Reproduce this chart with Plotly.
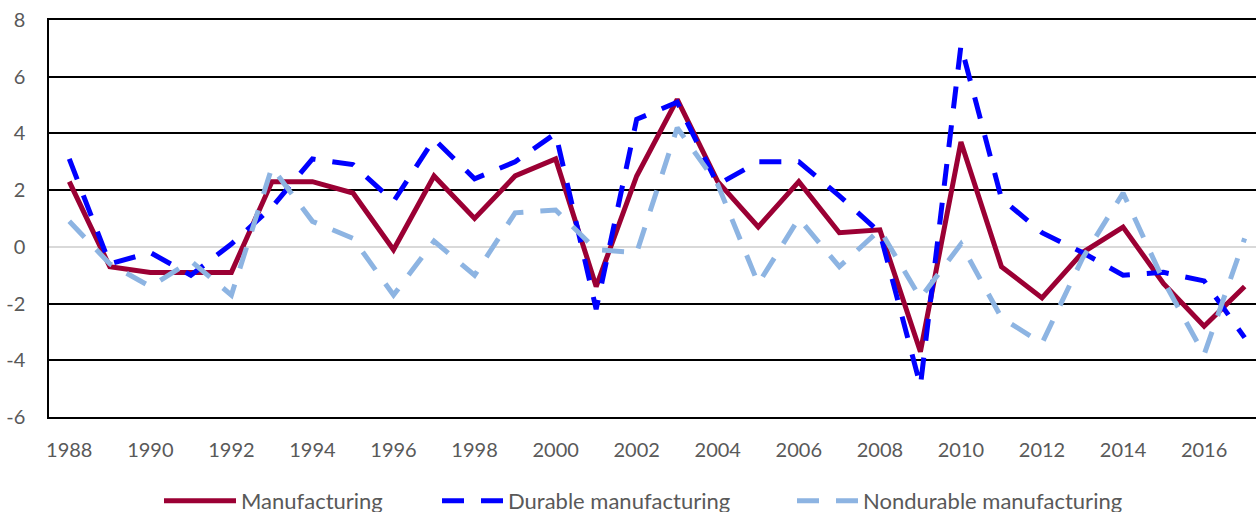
import plotly.graph_objects as go

years = list(range(1988, 2018))

manufacturing = [2.3, -0.7, -0.9, -0.9, -0.9, 2.3, 2.3, 1.9, -0.1, 2.5,
                 1.0, 2.5, 3.1, -1.4, 2.5, 5.2, 2.3, 0.7, 2.3, 0.5,
                 0.6, -3.7, 3.7, -0.7, -1.8, -0.2, 0.7, -1.3, -2.8, -1.4]

durable = [3.1, -0.6, -0.2, -1.0, 0.1, 1.4, 3.1, 2.9, 1.6, 3.8,
           2.4, 3.0, 4.0, -2.2, 4.5, 5.1, 2.2, 3.0, 3.0, 1.8,
           0.5, -4.9, 7.1, 1.7, 0.5, -0.2, -1.0, -0.9, -1.2, -3.2]

nondurable = [0.9, -0.6, -1.4, -0.5, -1.7, 2.8, 0.9, 0.3, -1.7, 0.2,
              -1.0, 1.2, 1.3, -0.1, -0.2, 4.2, 2.2, -1.3, 1.0, -0.7,
              0.6, -1.8, 0.1, -2.5, -3.4, -0.4, 1.9, -1.2, -3.8, 0.3]

x_ticks = list(range(1988, 2017, 2))
y_ticks = list(range(-6, 9, 2))
y_tick_text = [str(v) for v in y_ticks]  # plain hyphen-minus

font_family = "Lato, 'Open Sans', sans-serif"
text_grey = "#595959"
dash_style = "22px,17px"

series = [
    ("Manufacturing", manufacturing, dict(color="#9B0034", width=5), "legend"),
    ("Durable manufacturing", durable,
     dict(color="#0000FF", width=5, dash=dash_style), "legend2"),
    ("Nondurable manufacturing", nondurable,
     dict(color="#8DB4E2", width=5, dash=dash_style), "legend3"),
]

fig = go.Figure()
for name, values, line, legend_id in series:
    fig.add_trace(go.Scatter(x=years, y=values, mode="lines", name=name,
                             line=line, legend=legend_id))

def legend_box(x_px, sample_width):
    return dict(
        orientation="h", xref="container", yref="container",
        x=x_px / 1256, xanchor="left", y=1 - 501 / 512, yanchor="middle",
        font=dict(family=font_family, size=22, color=text_grey),
        itemwidth=sample_width, bgcolor="rgba(0,0,0,0)",
    )

fig.update_layout(
    width=1256, height=512,
    margin=dict(l=49, r=0, t=20, b=95, autoexpand=False),
    paper_bgcolor="white", plot_bgcolor="white",
    font=dict(family=font_family, size=20, color=text_grey),
    showlegend=True,
    legend=legend_box(159, 72),
    legend2=legend_box(437, 61),
    legend3=legend_box(792, 61),
)

fig.update_xaxes(
    range=[1987.5, 2017.28], tickvals=x_ticks, ticktext=[str(v) for v in x_ticks],
    showgrid=False, zeroline=False,
    showline=True, linecolor="black", linewidth=1.5, mirror=True,
    ticks="", ticklabelstandoff=14,
)
fig.update_yaxes(
    range=[-6, 8], tickvals=y_ticks, ticktext=y_tick_text,
    showgrid=True, gridcolor="black", gridwidth=1.5,
    zeroline=True, zerolinecolor="#D9D9D9", zerolinewidth=1.5,
    showline=True, linecolor="black", linewidth=1.5,
    ticks="", ticklabelstandoff=18,
)

fig.write_html("out.html")
